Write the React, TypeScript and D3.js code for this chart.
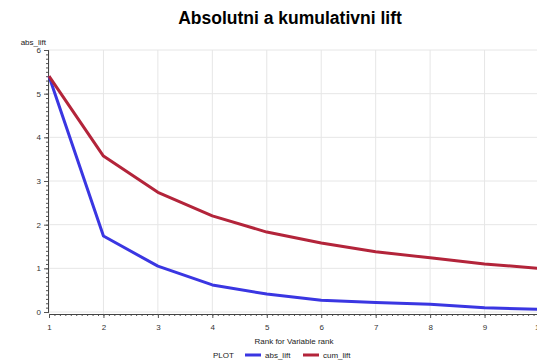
import React, { useEffect, useRef } from "react";
import { select, scaleLinear, axisBottom, axisLeft, line, range } from "d3";

const ranks = [1, 2, 3, 4, 5, 6, 7, 8, 9, 10];
const absLift = [5.4, 1.74, 1.05, 0.62, 0.41, 0.27, 0.22, 0.18, 0.1, 0.06];
const cumLift = [5.4, 3.57, 2.74, 2.2, 1.83, 1.58, 1.38, 1.24, 1.1, 1.0];
const yTicks = [0, 1, 2, 3, 4, 5, 6];
const seriesNames = ["abs_lift", "cum_lift"];
const seriesColors = ["#3a36e2", "#b3243a"];

export default function App() {
    const svgRef: any = useRef();

    useEffect(() => {
        const svg = select(svgRef.current);
        svg.selectAll("*").remove();
        const font = "Arial, 'Liberation Sans', sans-serif";

        const x = scaleLinear().domain([1, 10]).range([49, 539]);
        const y = scaleLinear().domain([0, 6]).range([312, 50]);

        // grid
        const grid = svg.append("g");
        grid.selectAll(".vg")
            .data(ranks)
            .join("line")
            .attr("x1", (d) => x(d))
            .attr("x2", (d) => x(d))
            .attr("y1", 50)
            .attr("y2", 314)
            .attr("stroke", "#e6e6e6");
        grid.selectAll(".hg")
            .data(yTicks)
            .join("line")
            .attr("x1", 48)
            .attr("x2", 539)
            .attr("y1", (d) => y(d))
            .attr("y2", (d) => y(d))
            .attr("stroke", "#e6e6e6");

        // minor ticks
        const xMinor: any = axisBottom(x)
            .tickValues(range(1, 10.01, 0.1))
            .tickSize(2)
            .tickFormat(() => "");
        svg.append("g").attr("transform", "translate(0,314)").call(xMinor);
        const yMinor: any = axisLeft(y)
            .tickValues(range(0, 6.01, 0.1))
            .tickSize(2)
            .tickFormat(() => "");
        svg.append("g").attr("transform", "translate(48,0)").call(yMinor);

        const xAxis: any = axisBottom(x)
            .tickValues(ranks)
            .tickSize(4)
            .tickPadding(6)
            .tickFormat((d: any) => String(d));
        const gx = svg.append("g").attr("transform", "translate(0,314)").call(xAxis);
        const yAxis: any = axisLeft(y)
            .tickValues(yTicks)
            .tickSize(4)
            .tickPadding(3)
            .tickFormat((d: any) => String(d));
        const gy = svg.append("g").attr("transform", "translate(48,0)").call(yAxis);

        svg.selectAll(".domain").attr("stroke", "#444");
        svg.selectAll(".tick line").attr("stroke", "#555");
        [gx, gy].forEach((g) =>
            g.selectAll("text").attr("font-family", font).attr("font-size", 8).attr("fill", "#333")
        );

        const lineGen: any = line<number>()
            .x((_, i) => x(ranks[i]))
            .y((d) => y(d));

        [absLift, cumLift].forEach((vals, i) => {
            svg.append("path")
                .datum(vals)
                .attr("d", lineGen)
                .attr("fill", "none")
                .attr("stroke", seriesColors[i])
                .attr("stroke-width", 3)
                .attr("stroke-linejoin", "round");
        });

        svg.append("text")
            .attr("x", 290)
            .attr("y", 24)
            .attr("text-anchor", "middle")
            .attr("font-family", font)
            .attr("font-weight", "bold")
            .attr("font-size", 17.5)
            .text("Absolutni a kumulativni lift");

        svg.append("text")
            .attr("x", 46)
            .attr("y", 45)
            .attr("text-anchor", "end")
            .attr("font-family", font)
            .attr("font-size", 8)
            .attr("fill", "#222")
            .text("abs_lift");

        svg.append("text")
            .attr("x", 294)
            .attr("y", 344)
            .attr("text-anchor", "middle")
            .attr("font-family", font)
            .attr("font-size", 8)
            .attr("fill", "#222")
            .text("Rank for Variable rank");

        // legend
        const lg = svg.append("g");
        lg.append("text")
            .attr("x", 213)
            .attr("y", 358)
            .attr("font-family", font)
            .attr("font-size", 8)
            .attr("fill", "#222")
            .text("PLOT");
        const legendX = [245, 303];
        seriesNames.forEach((name, i) => {
            lg.append("line")
                .attr("x1", legendX[i])
                .attr("x2", legendX[i] + 16)
                .attr("y1", 355)
                .attr("y2", 355)
                .attr("stroke", seriesColors[i])
                .attr("stroke-width", 3);
            lg.append("text")
                .attr("x", legendX[i] + 20)
                .attr("y", 358)
                .attr("font-family", font)
                .attr("font-size", 8)
                .attr("fill", "#222")
                .text(name);
        });
    }, []);

    return (
        <svg
            ref={svgRef}
            width={537}
            height={360}
            style={{ position: "absolute", left: 0, top: 0, background: "#fff" }}
        />
    );
}
